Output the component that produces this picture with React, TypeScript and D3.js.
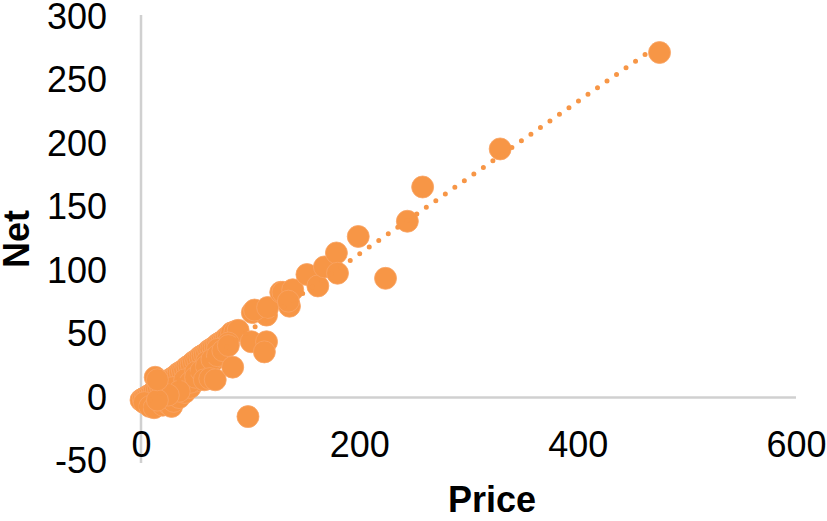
import React, { useRef, useEffect } from 'react';
import * as d3 from 'd3';

// Price (x) and Net (y)
const priceValues = [
  0, 2, 4, 6, 8, 10, 12, 14, 16, 18, 20, 22, 24, 26, 28, 30, 32, 34, 36, 38,
  40, 42, 44, 46, 48, 50, 52, 54, 56, 58, 60, 62, 64, 66, 68, 70, 72, 74, 76, 78,
  80, 83, 86, 89,
  3, 8, 12, 20, 25, 28, 30, 35, 40, 45, 50, 55, 60, 65, 70, 75, 80,
  30, 40, 50, 60, 70,
  45, 50, 55, 60, 65, 70, 75, 80, 35, 25, 15,
  58, 63, 68, 84, 13, 15,
  101, 115, 113, 102, 115, 104, 116, 136, 128, 130, 139, 135,
  152, 162, 168, 179, 180, 199, 224, 244, 258, 329, 475, 98,
];
const netValues = [
  -2, -1, 0, 1, 2, 3, 5, 6, 7, 8, 10, 11, 12, 13, 15, 16, 17, 19, 20, 21,
  22, 24, 25, 26, 28, 29, 30, 32, 33, 34, 35, 37, 38, 39, 40, 42, 43, 44, 45, 47,
  48, 51, 52, 53,
  -4, -7, -8, -6, -5, -7, -3, 0, 4, 8, 13, 18, 23, 28, 34, 39, 43,
  8, 14, 20, 28, 38,
  12, 16, 21, 25, 30, 33, 37, 41, 5, 2, -2,
  14, 15, 14, 24, 16, 14,
  44, 44, 36, 67, 65, 69, 71, 72, 83, 83, 85, 76,
  97, 88, 103, 114, 98, 127, 94, 139, 166, 196, 272, -15,
];

const xTicks = [0, 200, 400, 600];
const yTicks = [-50, 0, 50, 100, 150, 200, 250, 300];

const W = 827;
const H = 521;
const ORANGE = '#F79646';
const FONT = '"Liberation Sans", Arial, sans-serif';

const App = () => {
  const ref = useRef<SVGSVGElement | null>(null);

  useEffect(() => {
    if (!ref.current) return;
    const svg = d3.select(ref.current);
    svg.selectAll('*').remove();

    const x = d3.scaleLinear().domain([0, 600]).range([141, 796]);
    const y = d3.scaleLinear().domain([-50, 300]).range([461, 17]);

    const pts = priceValues.map((p, i) => ({ p, n: netValues[i] }));

    // axis lines
    svg
      .append('line')
      .attr('x1', x(0))
      .attr('x2', x(600))
      .attr('y1', y(0))
      .attr('y2', y(0))
      .attr('stroke', '#D0D0D0')
      .attr('stroke-width', 2.5);
    svg
      .append('line')
      .attr('x1', x(0))
      .attr('x2', x(0))
      .attr('y1', y(300) - 2)
      .attr('y2', y(-50) + 2)
      .attr('stroke', '#D0D0D0')
      .attr('stroke-width', 2.5);

    // y tick labels
    const yAxis = svg
      .append('g')
      .attr('transform', `translate(${x(0)},0)`)
      .call(
        d3
          .axisLeft(y)
          .tickValues(yTicks)
          .tickSize(0)
          .tickPadding(34)
          .tickFormat((d) => String(d)),
      );
    yAxis.select('.domain').remove();
    yAxis
      .selectAll('text')
      .attr('font-family', FONT)
      .attr('font-size', 36)
      .attr('fill', '#000');

    // x tick labels sit below the plot
    const xAxis = svg
      .append('g')
      .attr('transform', 'translate(0,431)')
      .call(
        d3
          .axisBottom(x)
          .tickValues(xTicks)
          .tickSize(0)
          .tickPadding(0)
          .tickFormat((d) => String(d)),
      );
    xAxis.select('.domain').remove();
    xAxis
      .selectAll('text')
      .attr('font-family', FONT)
      .attr('font-size', 36)
      .attr('fill', '#000');

    // points
    svg
      .append('g')
      .selectAll('circle')
      .data(pts)
      .enter()
      .append('circle')
      .attr('cx', (d) => x(d.p))
      .attr('cy', (d) => y(d.n))
      .attr('r', 11)
      .attr('fill', ORANGE)
      .attr('stroke', '#F9A466')
      .attr('stroke-width', 0.8);

    // linear trendline (least squares)
    const mx = d3.mean(pts, (d) => d.p) ?? 0;
    const my = d3.mean(pts, (d) => d.n) ?? 0;
    const sxy = d3.sum(pts, (d) => (d.p - mx) * (d.n - my));
    const sxx = d3.sum(pts, (d) => (d.p - mx) ** 2);
    const slope = sxy / sxx;
    const icpt = my - slope * mx;
    const [x0, x1] = d3.extent(priceValues) as [number, number];
    svg
      .append('line')
      .attr('x1', x(x0))
      .attr('y1', y(icpt + slope * x0))
      .attr('x2', x(x1))
      .attr('y2', y(icpt + slope * x1))
      .attr('stroke', ORANGE)
      .attr('stroke-width', 5)
      .attr('stroke-linecap', 'round')
      .attr('stroke-dasharray', '0 11.6');

    // titles
    svg
      .append('text')
      .attr('x', 492)
      .attr('y', 512)
      .attr('text-anchor', 'middle')
      .attr('font-family', FONT)
      .attr('font-weight', 'bold')
      .attr('font-size', 36)
      .text('Price');
    svg
      .append('text')
      .attr('transform', 'translate(29,239) rotate(-90)')
      .attr('text-anchor', 'middle')
      .attr('font-family', FONT)
      .attr('font-weight', 'bold')
      .attr('font-size', 36)
      .text('Net');
  }, []);

  return (
    <svg
      ref={ref}
      width={W}
      height={H}
      style={{ position: 'absolute', left: 0, top: 0, background: '#fff' }}
    />
  );
};

export default App;
